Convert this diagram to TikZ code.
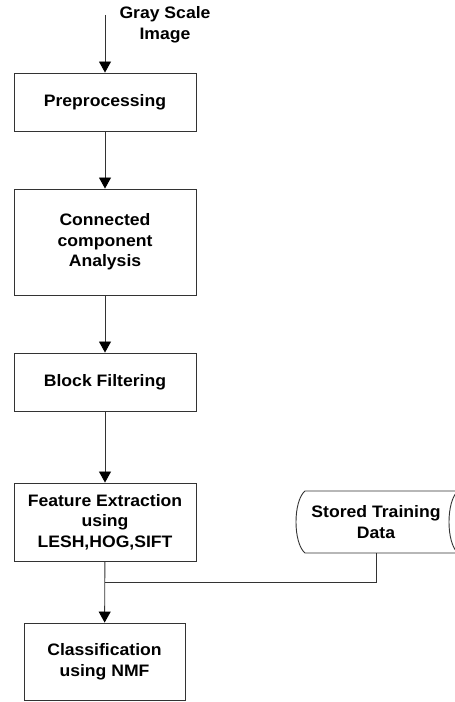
\documentclass[tikz,border=0pt]{standalone}
\usepackage{fontspec}
\setmainfont{Liberation Sans}[FakeStretch=1.06]
\usetikzlibrary{arrows.meta}
\begin{document}
\begin{tikzpicture}[x=1pt,y=1pt,
  line/.style={draw=black!80, line width=0.9pt},
  arr/.style={line, -{Triangle[length=11pt,width=12pt,color=black]}},
  txt/.style={font=\fontsize{16.6}{20.5}\selectfont\bfseries, align=center, text=black},
  box/.style={txt, line, minimum width=182pt, inner sep=0pt}]
\useasboundingbox (0,0) rectangle (455,702);
\node[txt] (gray) at (165,677) {Gray Scale\\Image};
\coordinate (in) at (105,687);
\node[box, minimum height=58pt] (pre) at (105,600) {Preprocessing};
\node[box, minimum height=106pt] (cca) at (105,460) {Connected\\component\\Analysis};
\node[box, minimum height=58pt] (blk) at (105,320) {Block Filtering};
\node[box, minimum height=78pt] (fe) at (105,180) {Feature Extraction\\using\\LESH,HOG,SIFT};
\node[box, minimum width=161pt, minimum height=77pt] (cls) at (104.5,40.5) {Classification\\using NMF};
\node[txt, minimum height=62pt, inner sep=0pt] (std) at (376,180) {Stored Training\\Data};
\draw[line] (305,211) -- (458,211) .. controls (446,201) and (446,159) .. (458,149)
  -- (305,149) .. controls (293,159) and (293,201) .. (305,211) -- cycle;
\coordinate (j) at (105,120);
\draw[arr] (in) -- (pre);
\draw[arr] (pre) -- (cca);
\draw[arr] (cca) -- (blk);
\draw[arr] (blk) -- (fe);
\draw[arr] (fe) -- (cls);
\draw[line] (std.south) |- (j);
\end{tikzpicture}
\end{document}
